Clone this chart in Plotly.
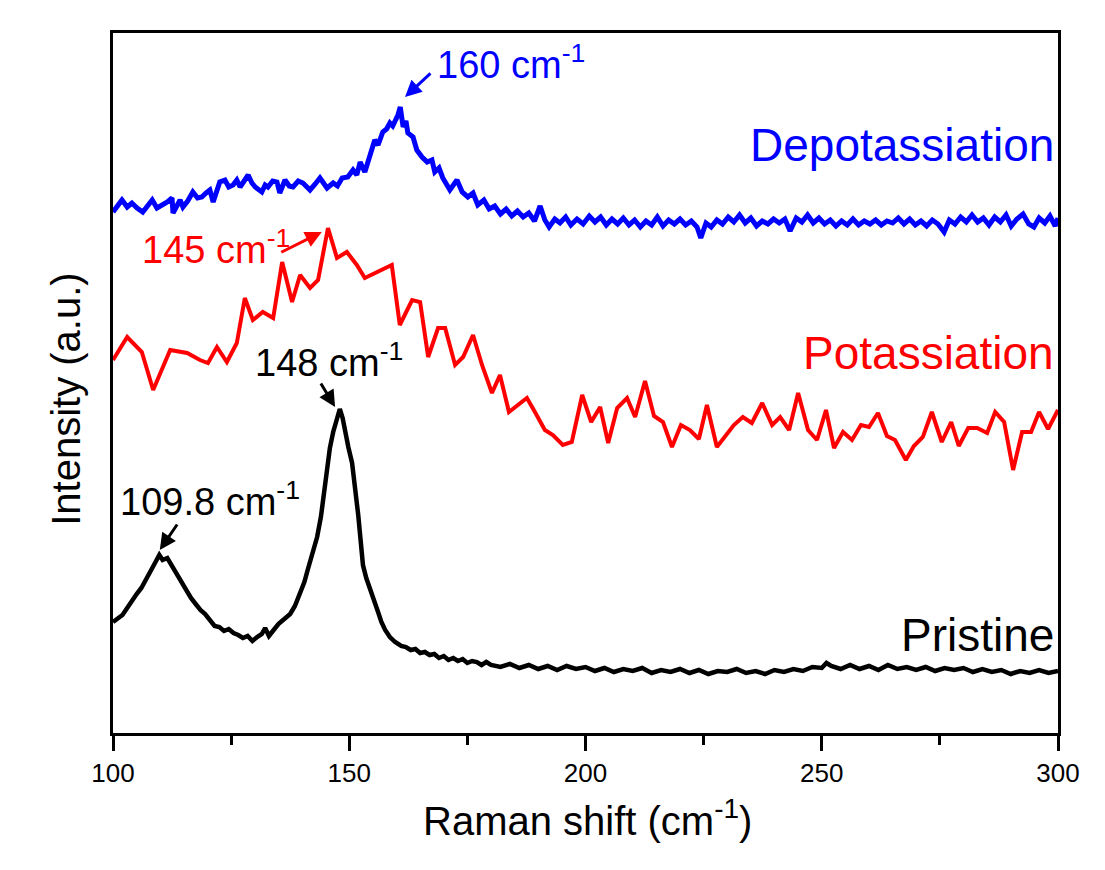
import plotly.graph_objects as go

# ---------------- data ----------------
pristine_x = [100, 101, 102, 103, 104, 105, 106, 107, 108, 109, 109.8, 110.5, 111.5, 112.5, 113.5,
              114.5, 115.5, 116.5, 117.5, 118.5, 119.5, 120.5, 121.5, 122.5, 123.5, 124.5, 125.5,
              126.5, 127.5, 128.5, 129.5, 130.5, 131.5, 132.2, 133, 134, 135, 136, 137.5, 138.5,
              139.6, 140.5, 141.2, 141.7, 142.5, 143.2, 144, 144.5, 145.2, 145.9, 146.6, 147.4,
              148, 148.6, 149.1, 149.8, 150.6, 151.2, 151.9, 152.4, 152.9, 153.6, 154.4, 155.2,
              156.1, 156.8, 157.6, 158.6, 159.7,
              161, 162, 163, 164, 165, 166, 167, 168, 169, 170, 171, 172, 173, 174, 175, 176, 177,
              178, 179, 180, 182, 184, 186, 188, 190, 192, 194, 196, 198, 200, 202, 204, 206, 208,
              210, 212, 214, 216, 218, 220, 222, 224, 226, 228, 230, 232, 234, 236, 238, 240, 242,
              244, 246, 248, 250, 251, 252, 254, 256, 258, 260, 262, 264, 266, 268, 270, 272, 274,
              276, 278, 280, 282, 284, 286, 288, 290, 292, 294, 296, 298, 300]
pristine_y = [111, 115, 118, 125, 133, 139, 145, 153, 163, 171, 178, 173, 175, 167, 158,
              150, 141, 135, 129, 123, 119, 113, 107, 106, 102, 104, 100,
              98, 95, 97, 92, 96, 99, 105, 97, 103, 109, 113, 119, 127,
              139, 151, 163, 171, 183, 196, 216, 233, 263, 285, 301, 315,
              324, 315, 301, 286, 270, 248, 218, 193, 168, 155, 145, 133,
              121, 111, 103, 96, 91,
              87, 86, 83, 84, 80, 81, 78, 79, 75, 77, 73, 75, 72, 74, 70, 72, 71,
              68, 71, 68, 66, 69, 65, 68, 64, 67, 63, 67, 64, 66, 62, 65, 61, 64,
              62, 65, 60, 63, 61, 64, 60, 63, 59, 62, 61, 64, 60, 62, 59, 63, 61,
              64, 62, 66, 65, 70, 67, 64, 68, 64, 67, 63, 68, 64, 66, 63, 66, 62,
              65, 63, 65, 61, 64, 61, 63, 59, 62, 60, 63, 60, 62]

potassiation_x = [100.0, 103.0, 106.1, 108.5, 112.1, 115.7, 118.4, 120.1, 122.0, 124.1, 126.2,
                  127.9, 129.6, 131.7, 133.9, 135.8, 137.9, 139.6, 141.7, 143.4, 145.5, 147.4,
                  149.5, 151.6, 153.3, 155.9, 159.0, 160.7, 163.3, 165.0, 166.7, 168.8, 170.3,
                  172.4, 174.1, 176.2, 178.1, 180.2, 181.9, 183.8, 185.7, 187.6, 189.3, 191.4,
                  193.1, 195.2, 197.1, 199.3, 201.2, 203.1, 204.8, 206.7, 208.8, 210.5, 212.6,
                  214.5, 216.4, 218.3, 220.2, 222.1, 224.0, 225.7, 227.8, 229.5, 231.4, 233.3,
                  235.2, 237.4, 239.5, 241.2, 243.1, 245.0, 247.1, 249.0, 250.9, 252.6, 254.5,
                  256.4, 258.3, 260.0, 261.9, 263.8, 265.5, 267.8, 269.5, 271.4, 273.3, 275.4,
                  277.4, 279.0, 281.0, 282.9, 285.0, 286.7, 288.6, 290.5, 292.4, 294.3, 296.0,
                  297.9, 300.0]
potassiation_y = [373, 396, 381, 343, 383, 380, 373, 370, 386, 371, 390,
                  435, 413, 421, 415, 471, 431, 458, 445, 453, 505, 475,
                  481, 468, 455, 461, 468, 408, 433, 431, 376, 405, 405,
                  368, 376, 398, 368, 340, 358, 321, 328, 335, 321, 303,
                  298, 288, 291, 338, 311, 326, 290, 325, 335, 316, 352,
                  317, 311, 286, 308, 303, 294, 328, 286, 296, 308, 316,
                  310, 330, 308, 316, 303, 340, 303, 293, 323, 285, 301,
                  293, 308, 306, 320, 297, 293, 273, 287, 296, 321, 291,
                  311, 287, 305, 305, 300, 321, 311, 263, 301, 301, 321,
                  304, 323]

depotassiation_x = [100.0, 101.0, 101.9, 103.0, 104.0, 105.1, 106.3, 107.3, 108.3, 109.3, 110.6,
                    111.5, 112.5, 112.7, 114.2, 114.8, 115.8, 116.9, 117.9, 118.8, 119.7, 120.5,
                    121.2, 122.0, 122.6, 123.7, 124.5, 125.4, 126.2, 126.9, 127.8, 128.6, 129.4,
                    130.1, 131.5, 132.2, 132.8, 133.8, 134.7, 135.3, 136.4, 137.3, 138.1, 139.2,
                    140.2, 141.7, 142.8, 143.8, 145.3, 146.6, 147.5, 148.5, 149.7, 150.8, 151.6,
                    152.3, 153.3, 154.4, 155.4, 156.1, 157.1, 157.9, 158.6, 159.2, 159.7, 160.3,
                    160.8, 161.4, 162.0, 162.4, 163.5, 164.3, 165.4, 166.5, 167.5, 168.1, 169.0,
                    169.8, 171.3, 172.8, 173.9, 175.1, 176.2, 177.2,
                    178.5, 179.6, 180.8, 182.0, 183.2, 184.4, 185.6, 186.8, 188.0, 189.2, 190.4,
                    191.4, 192.3, 193.5, 194.6, 195.8, 196.9, 198.2, 199.5, 200.8, 202.0, 203.2,
                    204.4, 205.6, 206.8, 208.0, 209.2, 210.4, 211.6, 212.8, 214.0, 215.2, 216.4,
                    217.6, 218.8, 220.0, 221.2, 222.4, 223.6, 224.4, 225.5, 226.6, 227.8, 229.0,
                    230.2, 231.4, 232.6, 233.8, 235.0, 236.2, 237.4, 238.6, 239.8, 241.0, 242.2,
                    243.3, 244.6, 245.8, 247.0, 248.2, 249.4, 250.6, 251.8, 253.0, 254.2, 255.4,
                    256.6, 257.8, 259.0, 260.2, 261.4, 262.6, 263.8, 265.0, 266.2, 267.4, 268.6,
                    269.8, 271.0, 272.2, 273.4, 274.6, 275.9, 277.0, 278.2, 279.4, 280.6, 281.8,
                    283.0, 284.2, 285.4, 286.6, 287.8, 289.0, 290.1, 291.3, 292.6, 293.8, 294.9,
                    296.0, 297.2, 298.3, 299.4, 300.0]
depotassiation_y = [521, 528, 533, 526, 530, 525, 521, 527, 533, 525, 528,
                    531, 535, 520, 533, 526, 532, 541, 535, 536, 540, 543,
                    531, 545, 551, 553, 546, 548, 553, 546, 552, 558, 550,
                    546, 541, 548, 546, 552, 551, 540, 553, 547, 546, 552,
                    550, 543, 549, 555, 545, 550, 547, 555, 556, 563, 558,
                    571, 561, 576, 593, 588, 601, 604, 610, 607, 611, 618,
                    626, 606, 612, 600, 596, 583, 576, 571, 573, 561, 565,
                    555, 543, 553, 541, 536, 540, 528,
                    533, 524, 527, 519, 524, 517, 522, 516, 520, 512, 527,
                    513, 506, 514, 510, 516, 508, 514, 509, 517, 511, 516,
                    508, 514, 509, 515, 508, 513, 506, 512, 508, 516, 507,
                    513, 509, 514, 508, 512, 506, 495, 510, 506, 513, 509,
                    516, 511, 518, 510, 515, 507, 512, 509, 514, 510, 514,
                    502, 515, 511, 518, 510, 515, 509, 513, 507, 512, 508,
                    514, 508, 512, 509, 513, 508, 512, 510, 515, 509, 514,
                    508, 512, 507, 513, 509, 501, 513, 509, 516, 511, 518,
                    511, 515, 508, 516, 511, 518, 507, 514, 519, 509, 506,
                    515, 510, 517, 507, 515]

series_names = ["Pristine", "Potassiation", "Depotassiation"]
series_colors = ["#000000", "#FF0000", "#0000FF"]

x_ticks = [100, 150, 200, 250, 300]
x_title = "Raman shift (cm<sup>-1</sup>)"
y_title = "Intensity (a.u.)"

# peak labels: (text, colour, label x, label y, arrow tail x, tail y, head x, head y)
peak_labels = [
    ("160 cm<sup>-1</sup>", "#0000FF", 168.1, 671, 167.5, 661, 161.8, 636),
    ("145 cm<sup>-1</sup>", "#FF0000", 105.7, 486, 135.3, 480, 144.2, 501),
    ("148 cm<sup>-1</sup>", "#000000", 129.6, 373, 143.8, 351, 147.0, 326),
    ("109.8 cm<sup>-1</sup>", "#000000", 101.1, 234, 113.8, 210, 109.9, 183),
]
series_label_y = [98, 380, 588]

FONT = "Liberation Sans, Arial, sans-serif"

fig = go.Figure()
for xs, ys, name, col, lw in [
    (pristine_x, pristine_y, series_names[0], series_colors[0], 4.5),
    (potassiation_x, potassiation_y, series_names[1], series_colors[1], 4),
    (depotassiation_x, depotassiation_y, series_names[2], series_colors[2], 5),
]:
    fig.add_trace(go.Scatter(x=xs, y=ys, mode="lines", name=name,
                             line=dict(color=col, width=lw), showlegend=False))

annotations = []
for txt, col, lx, ly, tx, ty, hx, hy in peak_labels:
    annotations.append(dict(x=hx, y=hy, ax=tx, ay=ty, xref="x", yref="y", axref="x", ayref="y",
                            text="", showarrow=True, arrowhead=2, arrowsize=1.1,
                            arrowwidth=3, arrowcolor=col))
    annotations.append(dict(x=lx, y=ly, xref="x", yref="y", text=txt, showarrow=False,
                            xanchor="left", yanchor="middle",
                            font=dict(family=FONT, size=38, color=col)))
for name, col, ly in zip(series_names, series_colors, series_label_y):
    annotations.append(dict(x=299.6, y=ly, xref="x", yref="y", text=name, showarrow=False,
                            xanchor="right", yanchor="middle",
                            font=dict(family=FONT, size=46, color=col)))
annotations.append(dict(x=0.5016, y=-0.122, xref="paper", yref="paper", text=x_title,
                        showarrow=False, xanchor="center", yanchor="middle",
                        font=dict(family=FONT, size=40, color="black")))
annotations.append(dict(x=-0.0497, y=0.476, xref="paper", yref="paper", text=y_title,
                        showarrow=False, xanchor="center", yanchor="middle", textangle=-90,
                        font=dict(family=FONT, size=40, color="black")))

fig.update_layout(
    width=1105, height=870,
    margin=dict(l=113, r=47, t=33, b=137),
    paper_bgcolor="white", plot_bgcolor="white",
    annotations=annotations,
    xaxis=dict(range=[100, 300], tickvals=x_ticks, ticktext=[str(v) for v in x_ticks],
               showgrid=False, zeroline=False, showline=True, linecolor="black", linewidth=3,
               mirror=True, ticks="outside", ticklen=15, tickwidth=3, tickcolor="black",
               tickfont=dict(family=FONT, size=26, color="black"),
               minor=dict(dtick=25, tick0=100, ticks="outside", ticklen=9, tickwidth=3,
                          tickcolor="black", showgrid=False)),
    yaxis=dict(range=[0, 700], showgrid=False, zeroline=False, showline=True, linecolor="black",
               linewidth=3, mirror=True, ticks="", showticklabels=False),
)

fig.write_html("out.html")
